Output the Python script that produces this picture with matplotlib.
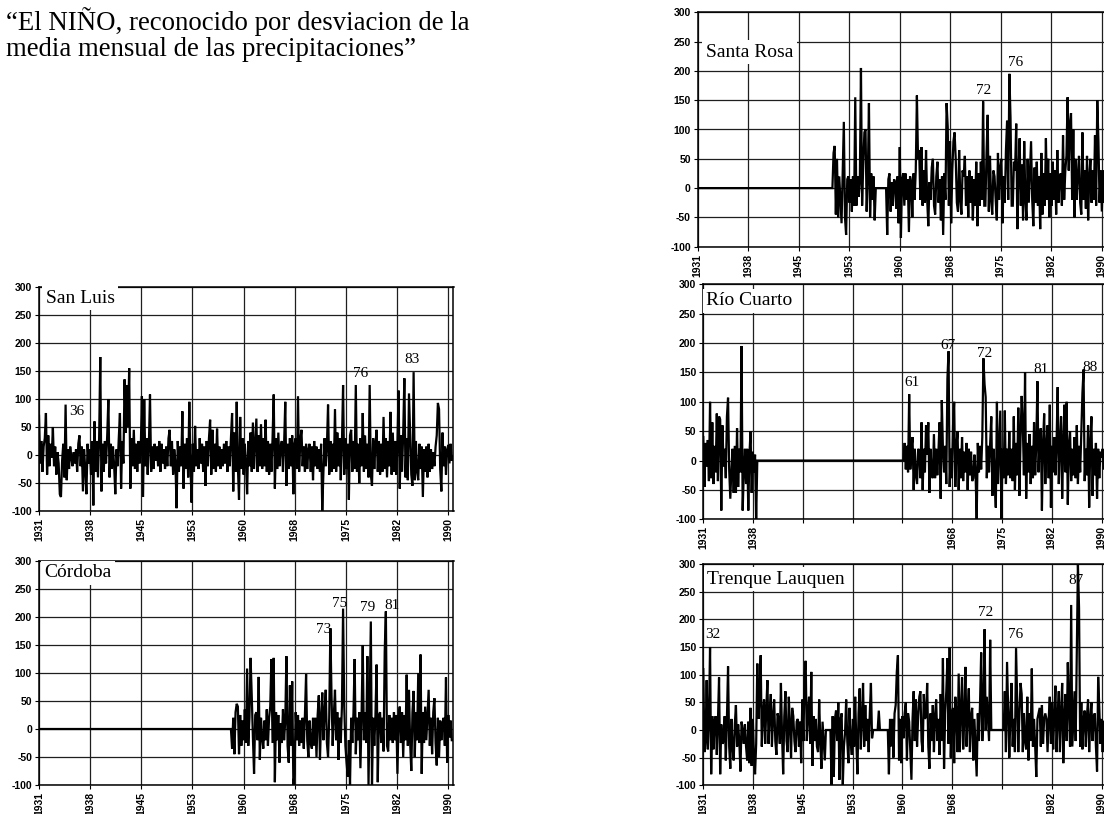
import numpy as np
import matplotlib
matplotlib.use("Agg")
import matplotlib.pyplot as plt

# ---------------- data (mm deviation from monthly mean, ~2-month resolution) -------------
STEP = 1 / 6.0
FIRST_YEAR = 1931.0

tick_labels_all = ['1931', '1938', '1945', '1953', '1960', '1968', '1975', '1982', '1990']
tick_labels_rio = ['1931', '1938', '', '', '', '1968', '1975', '1982', '1990']
tick_labels_tl = ['1931', '1938', '1945', '1953', '1960', '1968', '', '1982', '1990']

san_luis = [
    70, -15, 25, -30, 15, 30,  75, -35, 35, -20, 20, -5,  50, -20, 15, -35, 5, -15,
    -70, -75, -10, 20, -40, 90,  -45, 10, -25, 15, -5, -20,  5, -15, 10, -30, 20, 35,
    -20, 15, -65, 10, -25, -70,  20, -15, 10, -35, 25, -90,  60, -30, 25, -40, 30, 175,
    -65, 20, -30, 25, -15, 35,  100, -40, 20, -25, 15, -20,  -70, 10, -20, 30, 75, -60,
    25, -15, 135, 40, 125, 50,  155, -60, 30, -20, 45, -25,  20, -30, 25, -15, 10, 105,
    -75, 100, -20, 30, -35, 15,  108, -30, 15, -25, 20, -10,  15, -20, 25, -30, 20, -15,
    10, -25, 15, -20, 30, 45,  -20, 25, -35, 10, -15, -95,  25, -30, 15, -20, 78, -60,
    20, -25, 30, -40, 95, -20,  -85, 20, -30, 52, -20, 10,  -25, 30, -15, 20, -30, 15,
    -55, 25, -20, 30, 63, -35,  45, -25, 20, -30, 47, -20,  15, -25, 10, -20, 20, -15,
    25, -30, 15, -20, 30, 75,  -65, 40, -30, 95, -20, -80,  68, -25, 30, -35, 20, -15,
    -70, 25, -20, 40, -30, 58,  -25, 20, 65, -30, 35, -20,  55, -25, 30, -20, 63, -30,
    25, -35, 20, -30, 30, 108,  -60, 30, -25, 40, -20, 15,  25, -30, 20, 95, -55, 20,
    -25, 30, -20, 35, -70, 20,  30, -25, 105, -30, 25, 45,  -20, 15, -30, 20, -25, 10,
    20, -30, 15, -45, 25, -20,  15, -25, 10, -30, 20, -100,  -30, 30, -20, 15, 90, -35,
    25, -30, 20, -25, 82, -30,  40, -20, 30, -45, 20, 125,  -35, 30, -25, 20, -80, 35,
    45, -30, 25, -25, 125, -30,  20, -50, 30, -20, 75, -30,  35, -25, 20, -40, 125, -35,
    -55, 30, -25, 20, 45, -30,  25, -35, 20, -30, 68, -25,  30, -40, 25, -20, 77, -35,
    40, -30, 25, -35, 20, 115,  -60, 35, -30, 40, 137, -40,  30, -45, 110, 40, -35, -55,
    148, -45, 25, -30, -45, 20,  -25, 15, -75, 10, -30, 15,  -40, 20, -30, 10, -25, 5,
    -20, 15, 35, 93, 82, -25,  -65, 40, -20, 15, -35, 10,  18, -15, 20, -10, -5,
]

cordoba_start = 1958 + 5 / 6.0
cordoba = [
    -35,
    20, -45, 30, 45, 40, -45,  25, -30, 15, -20, 35, -25,  108, -30, 20, 127, 60, -15,
    -80, 25, 30, -20, 93, -55,  20, -15, -35, 15, -20, 35,  -30, 20, 40, 125, -25, 127,
    -95, 30, -20, 25, -60, 10,  -25, 35, -20, 15, 130, -30,  -60, 78, -30, 85, -100, -80,
    30, -20, 25, -30, 15, -25,  20, -35, 25, 98, -20, -50,  15, -25, -35, 20, -30, 20,
    -50, 25, 60, -55, 20, 65,  -20, 30, 70, -25, -50, 20,  180, 60, -30, 25, 70, -20,
    30, -55, 20, -25, 40, 215,  40, -30, -60, -85, -20, -100,  20, -25, 30, 125, -45, 20,
    -20, 30, -70, 25, 150, -20,  30, -25, 130, -100, 40, 192,  -100, 20, -30, 25, 115, -95,
    25, 30, -25, 20, -40, 138,  210, -30, -40, 25, -20, 20,  -25, 30, -20, 25, -80, 20,
    40, -25, 30, -50, 25, -20,  97, -30, 70, -25, -75, 30,  68, -50, 30, -20, 100, -25,
    133, -80, 30, -25, 40, -20,  25, 70, -30, 20, -45, 30,  55, -25, -65, 20, -50, 15,
    -20, 10, 20, -30, 92, -60,  25, -15, 15, -20, -20,
]

santa_rosa_start = 1950 + 5 / 6.0
santa_rosa = [
    60,
    72, -45, 50, -50, 20, -20,  -60, 30, 113, -50, -80, 15,  20, -25, 15, -40, 20, -30,
    155, -30, 20, -15, 10, 205,  -30, 40, 95, 100, -40, 20,  145, -50, 25, -20, 20, -55,
    0, 0, 0, 0, 0, 0,  0, 0, 0, 0, -80, 15,  25, -40, 10, -30, 15, 10,
    -35, 20, -60, 70, -85, 15,  25, -30, 25, -20, 15, -75,  20, 10, -50, 25, -20, 30,
    158, 50, 65, -20, 70, -30,  30, -25, 65, -20, -65, 10,  -20, 35, 50, -30, -45, 20,
    45, -25, 15, -55, 20, -80,  25, -20, 145, 105, -30, 80,  -60, 30, 80, 95, 50, -25,
    -40, 65, -20, -45, 30, 20,  55, -30, 20, -50, 30, -25,  20, -55, 15, -30, 45, -65,
    25, -30, 45, -20, 148, -30,  -30, 60, 125, -40, 55, -20,  -45, 30, 20, -20, -55, 60,
    -20, 35, 50, -60, 20, -25,  65, 115, -20, 195, 120, -30,  -30, 45, 30, 110, -70, 25,
    85, -30, 40, -55, 80, -20,  -55, 50, -25, 30, 80, -20,  -65, 35, -25, 45, -30, 20,
    -70, 60, -45, 25, -30, 85,  -20, 50, -50, 25, -30, 45,  -20, 30, -45, 65, -25, 20,
    25, -30, 90, -20, 30, 55,  155, 30, 110, 128, -20, 100,  -50, 50, -20, 25, 55, -25,
    -45, 95, -20, 30, -35, 55,  -55, 20, 50, -25, 30, -20,  90, -30, 150, 80, -25, 30,
    -40, 30, -25, 20, -20,
]

rio_cuarto_early = [
    40, -45, 30, -10, 35, -35,  100, -30, 65, -40, 25, -20,  80, -35, 75, 70, -85, 60,
    -10, 20, -30, 75, 107, -15,  -65, -15, 20, -55, 25, -55,  55, -45, 20, -20, 195, -85,
    -20, 20, -40, 20, -85, 10,  50, -55, 15, -20, 10, -100,
]
rio_cuarto_late_start = 1960 + 4 / 6.0
rio_cuarto_late = [
    0, 30,
    -15, 25, -20, 113, -15, 20,  40, -50, 20, -25, -40, 20,  15, -30, 65, -50, 20, -20,
    60, 10, 65, -55, 20, -25,  -30, 45, -30, 20, -25, 15,  65, -65, 103, 20, -20, 25,
    -40, 140, 186, -45, 20, -30,  60, 100, -45, 25, 50, -50,  20, -30, 40, -35, 15, -20,
    30, -50, 20, -25, 15, -35,  -30, 10, -20, -100, 30, -20,  25, -15, 40, 174, 130, 108,
    -30, 25, -20, 30, 75, -60,  20, -25, -80, 100, -40, 20,  85, -100, 20, -30, 85, -40,
    20, -25, 50, -30, 20, -35,  75, -50, 30, -25, 90, -60,  40, 110, 60, -25, 150, -65,
    30, -20, 45, -40, 25, -30,  65, -25, 30, 135, -20, 40,  55, -85, 30, 80, -40, 25,
    60, -30, 95, -80, 25, -20,  40, -25, 30, 125, -40, 30,  75, -65, 30, 95, -20, 100,
    -75, 25, 50, -35, 20, -25,  40, -30, 60, -40, 25, -20,  50, 115, 155, -35, 20, -25,
    60, -80, 30, 75, -60, 20,  -25, 30, -65, 20, -30, 15,  5, 20, -15, 10, -10,
]

trenque_lauquen = [
    110, -40, -20, 90, -35, 20,  150, -80, 25, -35, 15, 25,  -45, 15, 95, -80, 10, -25,
    -20, 25, -55, 20, 115, -30,  -70, 20, -30, -55, 10, 45,  -30, 10, -20, -75, 15, 0,
    -25, 10, -30, -55, 15, -60,  40, -65, 20, -45, -80, -25,  120, 20, 60, 135, -30, 30,
    55, -25, 40, 90, -25, 30,  65, -30, 25, 55, -20, -45,  30, 20, -25, 85, -10, -80,
    25, 70, -20, -40, 60, 10,  -50, 40, 25, -20, -40, 15,  20, -30, 15, -60, 55, -20,
    100, 125, -20, 30, 60, -25,  105, -65, 25, -20, 20, -30,  -40, 55, -20, -70, 15, -20,
    -55, 0, 0, 0, 0, 0,  -100, 25, -85, 20, 35, -20,  50, -90, 20, 30, -100, -30,
    -5, 55, -20, -60, 40, -20,  -45, 20, -30, 60, -20, -80,  30, 75, -35, 20, 85, -30,
    45, -20, 20, -40, 30, 85,  -15, 0, 0, 0, 0, 0,  35, 0, 0, 0, 0, 0,
    0, 0, 0, -80, 20, -30,  20, -50, 30, 45, 105, 135,  -55, 20, -60, 25, -15, 30,
    50, -55, 30, 15, -40, -90,  20, 70, -20, 55, -30, 25,  60, 70, -20, -40, 65, 20,
    25, 85, -30, -70, 30, -20,  45, -40, 25, 55, -20, 20,  -45, 65, -20, 130, -70, 30,
    70, 130, -25, 150, -50, 30,  40, -60, 60, 30, -40, 102,  -40, 35, 95, -35, 20, 114,
    -30, 30, 75, -40, 25, 40,  -55, 20, -30, -84, 30, -20,  50, 140, -20, 30, 182, 0,
    60, 20, -20, 163, 0, 0,  0, 0, 0, 0, 0, 0,  0, 0, 0, 0, 70, -40,
    123, 40, -50, 30, 85, -30,  20, -40, 148, 50, -40, 30,  85, 65, -40, 30, -20, -35,
    60, -55, 30, -20, 111, -30,  20, -30, -85, 20, 30, 40,  -30, 45, -25, 20, 30, 20,
    -40, 20, 60, -25, 50, -35,  30, 80, -40, 25, 70, -40,  30, 85, -60, 25, 65, -20,
    122, 40, -30, 226, -30, 20,  70, -20, 140, 300, 220, -30,  50, -35, 20, 35, -30, 25,
    55, -40, 20, 50, -20, 25,  30, -30, -75, 96, 40, -25,  20, -40, 15,
]

# peak annotations (year label, x-position year, value)
peaks_san_luis = [("36", 1936.4, 77), ("76", 1977.3, 145), ("83", 1984.8, 171)]
peaks_cordoba = [("73", 1972.0, 178), ("75", 1974.4, 224), ("79", 1978.4, 217), ("81", 1981.9, 221)]
peaks_santa_rosa = [("72", 1972.7, 167), ("76", 1977.35, 214)]
peaks_rio = [("61", 1961.95, 133), ("67", 1967.3, 195), ("72", 1972.7, 183),
             ("81", 1981.1, 155), ("88", 1988.3, 159)]
peaks_tl = [("32", 1932.4, 172), ("72", 1972.8, 212), ("76", 1977.3, 173), ("87", 1986.2, 270)]

# ---------------- helpers -------------------------------------------------------------
def build_series(start, values):
    vals = np.asarray(values, dtype=float)
    n0 = int(round((start - FIRST_YEAR) / STEP))
    y = np.concatenate([np.zeros(n0), vals])
    x = FIRST_YEAR + np.arange(len(y)) * STEP
    return x, y


W, H = 1104, 814
fig = plt.figure(figsize=(W / 100, H / 100), dpi=100)
fig.patch.set_facecolor("white")

SERIF = ["Liberation Serif", "DejaVu Serif"]
SANS = ["Liberation Sans", "DejaVu Sans"]
tick_pos = FIRST_YEAR + 7.375 * np.arange(9)


def make_axes(left, top, right, bottom):
    return fig.add_axes([left / W, 1 - bottom / H, (right - left) / W, (bottom - top) / H])


def setup(ax, labels):
    ax.set_xlim(1931, 1990.75)
    ax.set_ylim(-100, 300)
    ax.set_yticks(np.arange(-100, 301, 50))
    ax.set_yticklabels([str(v) for v in range(-100, 301, 50)],
                       fontsize=7.5, fontweight="bold", family=SANS)
    ax.set_xticks(tick_pos)
    ax.set_xticklabels(labels, rotation=90, fontsize=7.5, fontweight="bold", family=SANS)
    ax.grid(True, color="#1e1e1e", lw=0.9)
    ax.set_axisbelow(True)
    ax.tick_params(direction="out", length=3, width=0.8, pad=2, colors="black")
    for s in ax.spines.values():
        s.set_color("black")
        s.set_linewidth(1.1)


def panel(ax, x, y, title, title_xy, peaks):
    ax.plot(x, y, color="black", lw=1.6, zorder=2, solid_joinstyle="miter")
    ax.text(title_xy[0], title_xy[1], title, family=SERIF, fontsize=14,
            ha="left", va="center", zorder=5,
            bbox=dict(facecolor="white", edgecolor="none", pad=2.5))
    for lab, px, py in peaks:
        ax.text(px, py, lab, family=SERIF, fontsize=11, ha="center", va="center", zorder=5)


# San Luis
ax1 = make_axes(39, 287, 453.5, 511)
setup(ax1, tick_labels_all)
x, y = build_series(FIRST_YEAR, san_luis)
panel(ax1, x, y, "San Luis", (1932.0, 280), peaks_san_luis)

# Córdoba
ax2 = make_axes(39, 561, 453.5, 785)
setup(ax2, tick_labels_all)
x, y = build_series(cordoba_start, cordoba)
panel(ax2, x, y, "Córdoba", (1931.8, 279), peaks_cordoba)

# Santa Rosa
ax3 = make_axes(697.7, 12.3, 697.7 + 59.75 * 6.85, 246.7)
setup(ax3, tick_labels_all)
x, y = build_series(santa_rosa_start, santa_rosa)
panel(ax3, x, y, "Santa Rosa", (1932.2, 232), peaks_santa_rosa)

# Río Cuarto
ax4 = make_axes(703.3, 284.3, 703.3 + 59.75 * 6.75, 519.3)
setup(ax4, tick_labels_rio)
x_rc, y_rc = build_series(rio_cuarto_late_start, rio_cuarto_late)
y_rc[:len(rio_cuarto_early)] = rio_cuarto_early
panel(ax4, x_rc, y_rc, "Río Cuarto", (1931.4, 272), peaks_rio)

# Trenque Lauquen
ax5 = make_axes(703.3, 564, 703.3 + 59.75 * 6.75, 785.3)
setup(ax5, tick_labels_tl)
x, y = build_series(FIRST_YEAR, trenque_lauquen)
panel(ax5, x, y, "Trenque Lauquen", (1931.6, 272), peaks_tl)

# heading
fig.text(6 / W, 1 - 7 / H,
         "\u201cEl NI\u00d1O, reconocido por desviacion de la\nmedia mensual de las precipitaciones\u201d",
         family=SERIF, fontsize=19.3, ha="left", va="top", linespacing=1.08)

fig.savefig("out.png", dpi=100, facecolor="white")
